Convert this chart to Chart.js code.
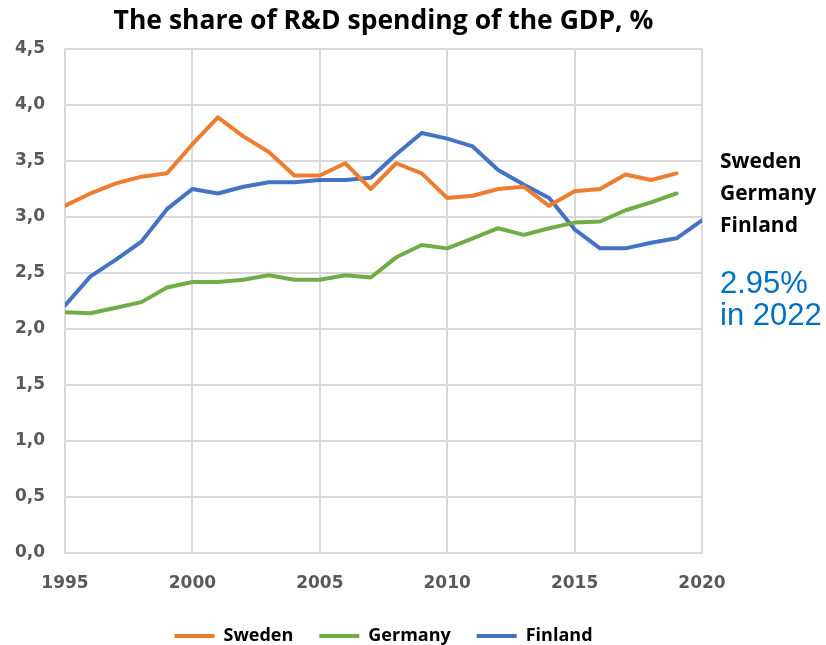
<!DOCTYPE html>
<html>
<head>
<meta charset="utf-8">
<script src="https://cdn.jsdelivr.net/npm/chart.js@4/dist/chart.umd.min.js"></script>
<style>
  html, body { margin: 0; padding: 0; background: #ffffff; }
  #wrap { width: 826px; height: 645px; }
</style>
</head>
<body>
<div id="wrap"><canvas id="rd" width="826" height="645"></canvas></div>
<script>
// R&D expenditure as a share of GDP, %
const years = [1995, 1996, 1997, 1998, 1999, 2000, 2001, 2002, 2003, 2004, 2005, 2006, 2007,
               2008, 2009, 2010, 2011, 2012, 2013, 2014, 2015, 2016, 2017, 2018, 2019, 2020];
const sweden  = [3.10, 3.21, 3.30, 3.36, 3.39, 3.65, 3.89, 3.72, 3.58, 3.37, 3.37, 3.48, 3.25,
                 3.48, 3.39, 3.17, 3.19, 3.25, 3.27, 3.10, 3.23, 3.25, 3.38, 3.33, 3.39, null];
const germany = [2.15, 2.14, 2.19, 2.24, 2.37, 2.42, 2.42, 2.44, 2.48, 2.44, 2.44, 2.48, 2.46,
                 2.64, 2.75, 2.72, 2.81, 2.90, 2.84, 2.90, 2.95, 2.96, 3.06, 3.13, 3.21, null];
const finland = [2.21, 2.47, 2.62, 2.78, 3.07, 3.25, 3.21, 3.27, 3.31, 3.31, 3.33, 3.33, 3.35,
                 3.56, 3.75, 3.70, 3.63, 3.42, 3.29, 3.17, 2.89, 2.72, 2.72, 2.77, 2.81, 2.97];

const seriesNames = ['Sweden', 'Germany', 'Finland'];
const sideNote = ['2.95%', 'in 2022'];
const titleText = 'The share of R&D spending of the GDP, %';

const COLORS = { Sweden: '#ED7D31', Germany: '#70AD47', Finland: '#4472C4' };
const GRID = '#d9d9d9';
const TICK = '#595959';

function pairs(values) {
  return years.map((y, i) => ({ x: y, y: values[i] }));
}

const seriesValues = [sweden, germany, finland];
const datasets = seriesNames.map((name, i) => ({
  label: name,
  data: pairs(seriesValues[i]),
  borderColor: COLORS[name],
  backgroundColor: COLORS[name],
  borderWidth: 4,
  pointRadius: 0,
  tension: 0,
  borderJoinStyle: 'round',
  borderCapStyle: 'round',
  spanGaps: false
}));

// Country names and the 2022 note to the right of the plot
const sideText = {
  id: 'sideText',
  afterDraw(chart) {
    const { ctx, chartArea } = chart;
    const x = chartArea.right + 18;
    ctx.save();
    ctx.textAlign = 'left';
    ctx.textBaseline = 'middle';
    ctx.fillStyle = '#000000';
    ctx.font = 'bold 21px "Open Sans"';
    seriesNames.forEach((n, i) => ctx.fillText(n, x, 162 + i * 32));
    ctx.fillStyle = '#0070C0';
    ctx.font = '31px "Liberation Sans"';
    sideNote.forEach((t, i) => ctx.fillText(t, x, 284 + i * 32));
    ctx.restore();
  }
};

new Chart(document.getElementById('rd'), {
  type: 'line',
  data: { datasets },
  options: {
    responsive: false,
    animation: false,
    devicePixelRatio: 1,
    layout: { padding: { left: 0, right: 124, top: 0, bottom: -10 } },
    plugins: {
      title: {
        display: true,
        text: titleText,
        fullSize: false,
        color: '#000000',
        font: { family: '"Open Sans"', size: 26.5, weight: 'bold' },
        padding: { top: 6, bottom: 11.2 }
      },
      legend: {
        position: 'bottom',
        fullSize: false,
        labels: {
          color: '#000000',
          font: { family: '"Open Sans"', size: 18, weight: 'bold' },
          usePointStyle: true,
          pointStyle: 'line',
          pointStyleWidth: 40,
          padding: 26
        }
      },
      tooltip: { enabled: false }
    },
    scales: {
      x: {
        type: 'linear',
        min: 1995,
        max: 2020,
        afterFit(scale) { scale.height = 48; },
        ticks: {
          stepSize: 5,
          color: TICK,
          padding: 20,
          maxRotation: 0,
          font: { family: '"DejaVu Sans"', size: 17, weight: 'bold' },
          callback: (v) => String(v)
        },
        grid: { color: GRID, lineWidth: 2, drawTicks: false },
        border: { color: GRID, width: 2 }
      },
      y: {
        min: 0,
        max: 4.5,
        afterFit(scale) { scale.width = 65; },
        ticks: {
          stepSize: 0.5,
          color: TICK,
          padding: 20,
          font: { family: '"DejaVu Sans"', size: 17, weight: 'bold' },
          callback: (v) => v.toFixed(1).replace('.', ',')
        },
        grid: { color: GRID, lineWidth: 2, drawTicks: false },
        border: { color: GRID, width: 2 }
      }
    }
  },
  plugins: [sideText]
});
</script>
</body>
</html>
